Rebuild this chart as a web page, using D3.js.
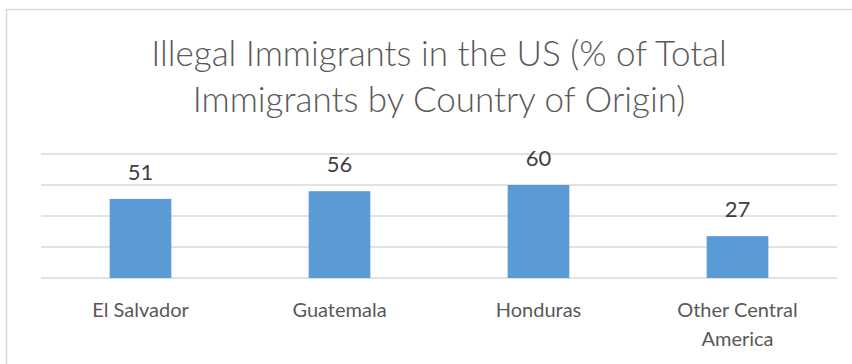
<!DOCTYPE html>
<html>
<head>
<meta charset="utf-8">
<script src="https://cdn.jsdelivr.net/npm/d3@7"></script>
<style>
  html, body { margin: 0; padding: 0; background: #fff; }
  svg { display: block; font-family: Lato, "Open Sans", sans-serif; }
</style>
</head>
<body>
<div id="chart"></div>
<script>
const titleLines = ["Illegal Immigrants in the US (% of Total", "Immigrants by Country of Origin)"]
const categories = [["El Salvador"], ["Guatemala"], ["Honduras"], ["Other Central", "America"]]
const values = [51, 56, 60, 27]
const gridTicks = [0, 20, 40, 60, 80]

const width = 852,
    height = 364,
    margin = { top: 154, right: 15, bottom: 86, left: 41 }

const svg = d3.select("#chart").append("svg")
    .attr("width", width)
    .attr("height", height)

// chart frame (only top/left visible in the crop)
svg.append("rect")
    .attr("x", 6.5).attr("y", 9.5)
    .attr("width", 900).attr("height", 400)
    .style("fill", "#fff")
    .style("stroke", "#d9d9d9")
    .style("stroke-width", 1.5)

const x = d3.scaleBand()
    .domain(d3.range(values.length))
    .range([margin.left, width - margin.right])
    .paddingInner(0.69)
    .paddingOuter(0.345)

const y = d3.scaleLinear()
    .domain([0, 80])
    .range([height - margin.bottom, margin.top])

// gridlines
svg.append("g")
    .selectAll("line")
    .data(gridTicks)
    .join("line")
    .attr("x1", margin.left)
    .attr("x2", width - margin.right)
    .attr("y1", d => y(d))
    .attr("y2", d => y(d))
    .style("stroke", "#d9d9d9")
    .style("stroke-width", 1.5)

// bars
svg.append("g")
    .selectAll("rect")
    .data(values)
    .join("rect")
    .attr("x", (d, i) => x(i))
    .attr("y", d => y(d))
    .attr("width", x.bandwidth())
    .attr("height", d => y(0) - y(d))
    .style("fill", "#5b9bd5")

// value labels
svg.append("g")
    .selectAll("text")
    .data(values)
    .join("text")
    .attr("x", (d, i) => x(i) + x.bandwidth() / 2)
    .attr("y", d => y(d) - 19)
    .attr("text-anchor", "middle")
    .style("font-size", "22px")
    .style("fill", "#404040")
    .text(d => d)

// category labels
const cat = svg.append("g")
    .selectAll("text")
    .data(categories)
    .join("text")
    .attr("text-anchor", "middle")
    .attr("transform", (d, i) => `translate(${x(i) + x.bandwidth() / 2},317)`)
    .style("font-size", "20px")
    .style("fill", "#595959")

cat.selectAll("tspan")
    .data(d => d)
    .join("tspan")
    .attr("x", 0)
    .attr("y", (d, i) => i * 29)
    .text(d => d)

// title
svg.append("text")
    .attr("text-anchor", "middle")
    .attr("transform", `translate(${(margin.left + width - margin.right) / 2},0)`)
    .style("font-size", "35px")
    .style("font-weight", 300)
    .style("fill", "#595959")
    .selectAll("tspan")
    .data(titleLines)
    .join("tspan")
    .attr("x", 0)
    .attr("y", (d, i) => 66 + i * 46)
    .text(d => d)
</script>
</body>
</html>
